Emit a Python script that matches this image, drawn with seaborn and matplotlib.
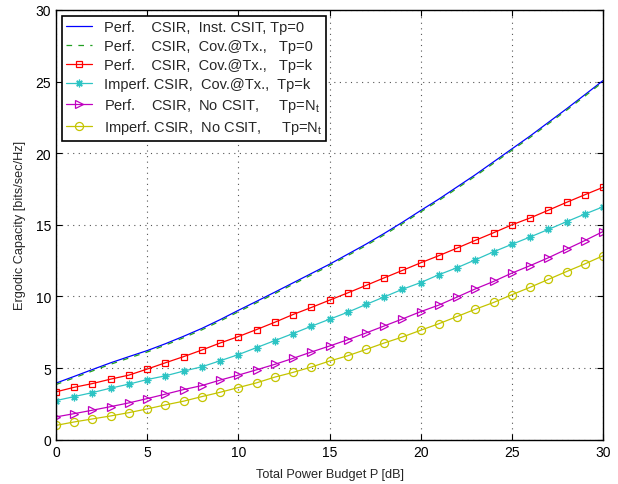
import numpy as np
import pandas as pd
import matplotlib
matplotlib.use("Agg")
import matplotlib.pyplot as plt
import seaborn as sns

# ---- data ----
power_db = list(range(0, 31))

perf_inst = [3.95, 4.42, 4.90, 5.37, 5.80, 6.22, 6.70, 7.22, 7.77, 8.38,
             9.03, 9.66, 10.30, 10.95, 11.60, 12.25, 12.95, 13.65, 14.40, 15.18,
             16.00, 16.80, 17.65, 18.50, 19.40, 20.30, 21.20, 22.15, 23.10, 24.08, 25.07]
perf_cov0 = [3.85, 4.32, 4.80, 5.27, 5.70, 6.12, 6.60, 7.12, 7.67, 8.28,
             8.93, 9.56, 10.20, 10.85, 11.50, 12.15, 12.85, 13.55, 14.30, 15.08,
             15.90, 16.70, 17.55, 18.40, 19.30, 20.20, 21.10, 22.05, 23.00, 23.98, 24.98]
perf_covk = [3.34, 3.66, 3.92, 4.23, 4.51, 4.93, 5.37, 5.80, 6.26, 6.75,
             7.20, 7.69, 8.20, 8.74, 9.23, 9.74, 10.25, 10.77, 11.30, 11.82,
             12.35, 12.85, 13.38, 13.92, 14.45, 15.00, 15.48, 16.02, 16.57, 17.10, 17.62]
imperf_covk = [2.73, 3.01, 3.29, 3.60, 3.88, 4.20, 4.46, 4.79, 5.09, 5.51,
               5.94, 6.43, 6.92, 7.41, 7.92, 8.41, 8.90, 9.44, 9.97, 10.50,
               10.97, 11.52, 12.01, 12.56, 13.12, 13.64, 14.15, 14.68, 15.22, 15.75, 16.26]
perf_nocsit = [1.59, 1.82, 2.06, 2.31, 2.57, 2.87, 3.18, 3.50, 3.78, 4.16,
               4.51, 4.88, 5.26, 5.68, 6.12, 6.54, 6.98, 7.45, 7.94, 8.43,
               8.94, 9.40, 9.96, 10.53, 11.05, 11.63, 12.15, 12.70, 13.30, 13.90, 14.53]
imperf_nocsit = [1.00, 1.24, 1.45, 1.66, 1.89, 2.15, 2.43, 2.69, 3.01, 3.31,
                 3.64, 3.97, 4.37, 4.70, 5.07, 5.49, 5.86, 6.30, 6.75, 7.17,
                 7.64, 8.10, 8.60, 9.11, 9.58, 10.12, 10.64, 11.19, 11.74, 12.27, 12.84]

labels = [
    "Perf.    CSIR,  Inst. CSIT, Tp=0",
    "Perf.    CSIR,  Cov.@Tx.,   Tp=0",
    "Perf.    CSIR,  Cov.@Tx.,   Tp=k",
    "Imperf. CSIR,  Cov.@Tx.,  Tp=k",
    "Perf.    CSIR,  No CSIT,     Tp=N$_t$",
    "Imperf. CSIR,  No CSIT,     Tp=N$_t$",
]
x_ticks = [0, 5, 10, 15, 20, 25, 30]
y_ticks = [0, 5, 10, 15, 20, 25, 30]

# ---- style ----
sns.set_style("ticks")
plt.rcParams['font.family'] = ['Liberation Sans', 'DejaVu Sans']
plt.rcParams['mathtext.default'] = 'regular'

fig = plt.figure(figsize=(6.18, 4.85), dpi=100)
ax = fig.add_axes([56/618, 1 - 440.7/485, (603-56)/618, (440.7-11)/485])

series = [perf_inst, perf_cov0, perf_covk, imperf_covk, perf_nocsit, imperf_nocsit]
styles = [
    dict(color='#0000ff', linestyle='-', marker=None),
    dict(color='#22a022', linestyle=(0, (4.5, 5)), marker=None),
    dict(color='#ff0000', linestyle='-', marker='s', markersize=5),
    dict(color='#2ec4c4', linestyle='-', marker=(8, 2, 0), markersize=5.5),
    dict(color='#c000c0', linestyle='-', marker='>', markersize=6),
    dict(color='#c4c400', linestyle='-', marker='o', markersize=5.8),
]

for vals, lab, st in zip(series, labels, styles):
    df = pd.DataFrame({"P": power_db, "C": vals})
    kw = dict(linewidth=0.9, label=lab, color=st['color'], linestyle=st['linestyle'])
    if st['marker'] is not None:
        kw.update(marker=st['marker'], markersize=st['markersize'],
                  markerfacecolor='none', markeredgecolor=st['color'], markeredgewidth=0.9)
    sns.lineplot(data=df, x="P", y="C", ax=ax, **kw)

ax.set_xlim(0, 30)
ax.set_ylim(0, 30)
ax.set_xticks(x_ticks)
ax.set_yticks(y_ticks)
ax.tick_params(direction='in', top=True, right=True, length=4, width=0.8, labelsize=10, colors='black')
ax.grid(True, linestyle=(0, (1, 4)), color='#555555', linewidth=0.8)
for sp in ax.spines.values():
    sp.set_color('black')
    sp.set_linewidth(1.0)

ax.set_xlabel("Total Power Budget P [dB]", fontsize=9.2, labelpad=7)
ax.set_ylabel("Ergodic Capacity [bits/sec/Hz]", fontsize=9.2, labelpad=7)

leg = ax.legend(loc='upper left', bbox_to_anchor=(0.011, 0.986), fontsize=10.5,
                frameon=True, fancybox=False, edgecolor='black', framealpha=1,
                handlelength=1.75, handletextpad=0.8, borderpad=0.3, labelspacing=0.33,
                borderaxespad=0.0)
leg.get_frame().set_linewidth(1.2)

fig.savefig("out.png", dpi=100)
